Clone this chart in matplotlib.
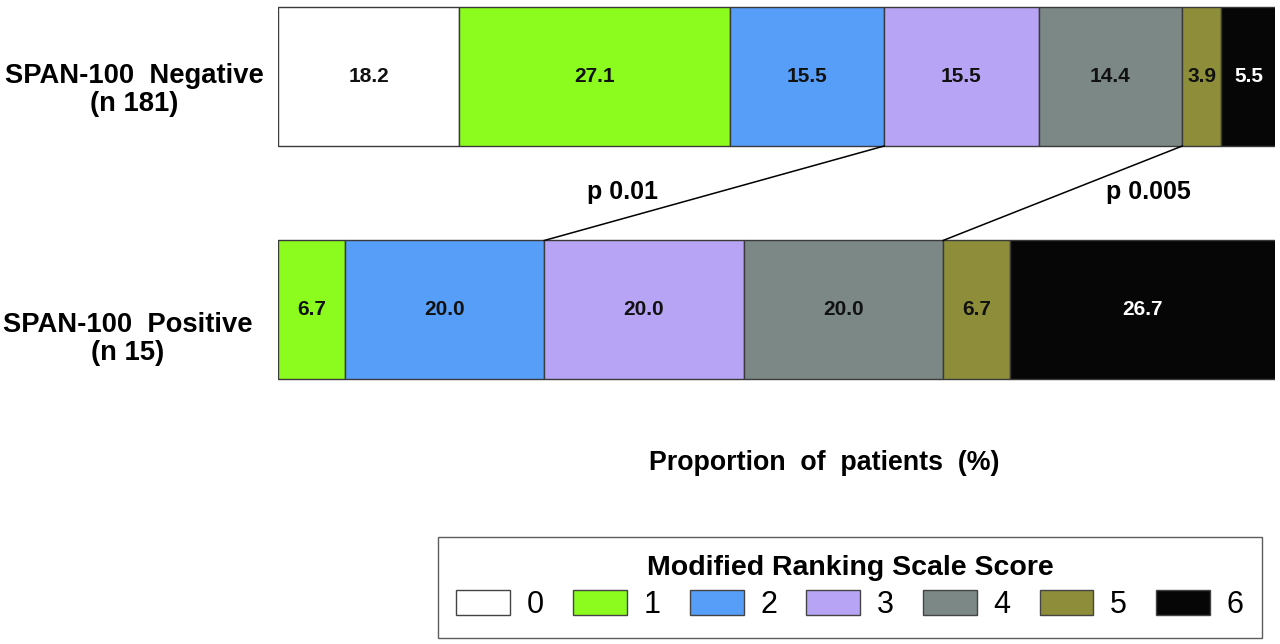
import matplotlib
matplotlib.use("Agg")
import matplotlib.pyplot as plt
import matplotlib.transforms as mtransforms
from matplotlib.patches import Patch
import numpy as np

groups = ["SPAN-100  Negative\n(n 181)", "SPAN-100  Positive\n(n 15)"]
scores = ["0", "1", "2", "3", "4", "5", "6"]
negative = [18.2, 27.1, 15.5, 15.5, 14.4, 3.9, 5.5]
positive = [0.0, 6.7, 20.0, 20.0, 20.0, 6.7, 26.7]
colors = ["#FFFFFF", "#8BFC1E", "#579EF8", "#B8A4F4", "#7B8886", "#8E8E3A", "#060606"]
text_colors = ["#111111"] * 6 + ["#FFFFFF"]
p_labels = ["p 0.01", "p 0.005"]
p_links = [3, 5]      # score index whose left edge is linked between the two bars
p_label_x = [34.6, 87.3]

W, H = 1280, 644
plt.rcParams['font.family'] = ['Liberation Sans', 'DejaVu Sans']
fig = plt.figure(figsize=(W / 100, H / 100), dpi=100)

x0, x1 = 278, 1275
ax = fig.add_axes([x0 / W, 0, (x1 - x0) / W, 1])
c0, c1 = 76.5, 310.0
unit = c1 - c0
bar_h = 139 / unit
ax.set_ylim((H - c0) / unit, -c0 / unit)
ax.set_xlim(0, 100)

data = [negative, positive]
for gi, vals in enumerate(data):
    left = 0.0
    for si, v in enumerate(vals):
        if v > 0:
            ax.barh(gi, v, left=left, height=bar_h, color=colors[si],
                    edgecolor="#3a3a3a", linewidth=1.0)
            ax.text(left + v / 2, gi, f"{v:.1f}", ha="center", va="center",
                    fontsize=15, fontweight="bold", color=text_colors[si])
        left += v

cum_neg = np.concatenate([[0], np.cumsum(negative)])
cum_pos = np.concatenate([[0], np.cumsum(positive)])
for bi, lab, lx in zip(p_links, p_labels, p_label_x):
    ax.plot([cum_neg[bi], cum_pos[bi]], [0 + bar_h / 2, 1 - bar_h / 2],
            color="black", lw=1.1)
    ax.text(lx, 0.495, lab, ha="center", va="center",
            fontsize=18, fontweight="bold")

# group labels
trans = mtransforms.blended_transform_factory(ax.transAxes, ax.transData)
label_x = [(134 - x0) / (x1 - x0), (128 - x0) / (x1 - x0)]
label_dy = [14.0 / unit, 29.5 / unit]
for gi, g in enumerate(groups):
    ax.text(label_x[gi], gi + label_dy[gi], g, transform=trans, ha="center",
            va="center", fontsize=19.7, fontweight="bold",
            multialignment="center", linespacing=1.1)

ax.set_yticks([])
ax.set_xticks([])
for s in ax.spines.values():
    s.set_visible(False)
ax.set_facecolor("none")

ax.set_xlabel("Proportion  of  patients  (%)", fontsize=19.3, fontweight="bold")
ax.xaxis.set_label_coords((824 - x0) / (x1 - x0), 1 - 463 / H)
ax.xaxis.label.set_va("center")

handles = [Patch(facecolor=c, edgecolor="#444444", linewidth=1.0) for c in colors]
leg = fig.legend(handles, scores, loc="center",
                 bbox_to_anchor=(438 / W, (H - 638) / H, 824 / W, 101 / H),
                 mode="expand", ncol=7, title="Modified Ranking Scale Score",
                 prop={"family": ["Liberation Sans Narrow", "Liberation Sans"], "size": 22},
                 handlelength=1.76, handleheight=0.85,
                 handletextpad=0.55, frameon=True, fancybox=False,
                 edgecolor="#333333", borderpad=0.6, borderaxespad=0,
                 columnspacing=1.0, labelspacing=0.3)
leg.get_title().set_fontweight("bold")
leg.get_title().set_fontsize(20.5)
leg.get_title().set_family(["Liberation Sans", "DejaVu Sans"])
leg.get_frame().set_linewidth(1.0)

fig.savefig("out.png", dpi=100)
